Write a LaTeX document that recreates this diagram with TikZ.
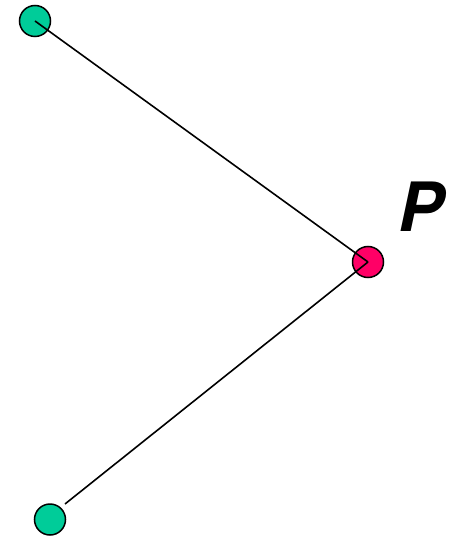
\documentclass[tikz,border=0pt]{standalone}
\usepackage{fontspec}
\setmainfont{TeX Gyre Heros}
\definecolor{ptgreen}{RGB}{0,204,153}
\definecolor{ptpink}{RGB}{255,0,102}
\begin{document}
\begin{tikzpicture}[x=1pt,y=-1pt,
  dot/.style={circle,draw=black,line width=1.5pt,minimum size=31pt,inner sep=0pt},
  link/.style={draw=black,line width=1.6pt}]
\useasboundingbox (0,0) rectangle (448,537);
\node[dot,fill=ptgreen] (a) at (35,21) {};
\node[dot,fill=ptpink] (p) at (368,262) {};
\node[dot,fill=ptgreen] (b) at (50,519.5) {};
\coordinate (bend) at (65,504);
\node[font=\fontsize{68}{68}\selectfont\bfseries\itshape,inner sep=0pt] (lbl) at (421,207) {P};
\draw[link] (a.center) -- (p.center);
\draw[link] (p.center) -- (bend);
\end{tikzpicture}
\end{document}
